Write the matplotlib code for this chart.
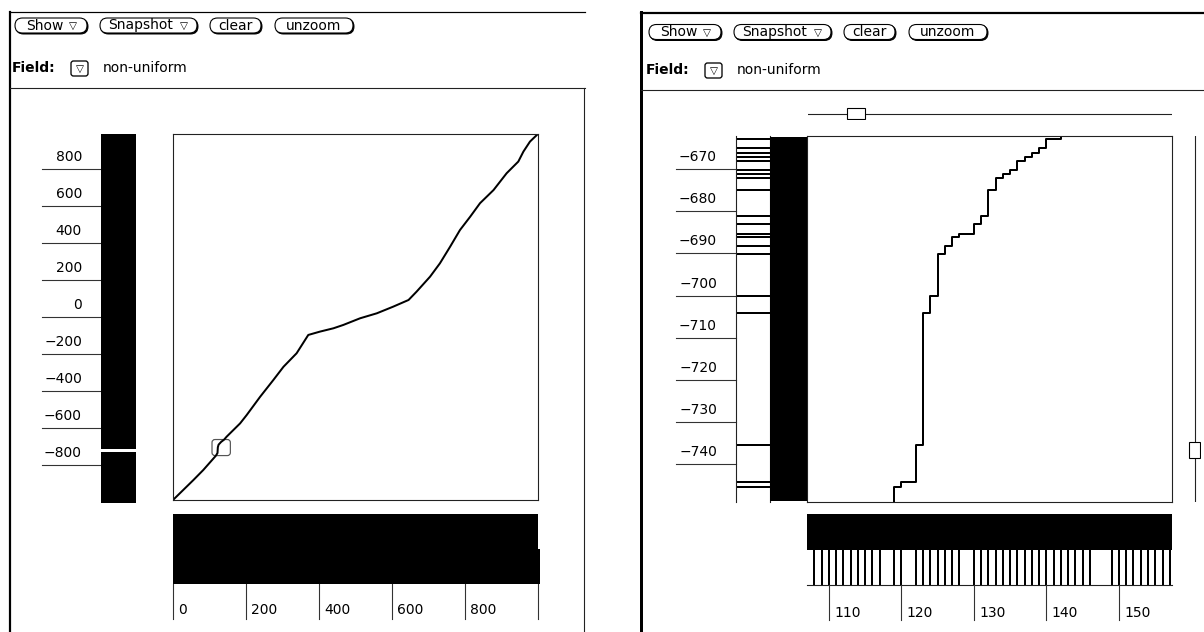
import matplotlib
matplotlib.use("Agg")
import matplotlib.pyplot as plt
import matplotlib.transforms as mtransforms
from matplotlib.patches import FancyBboxPatch, Rectangle

plt.rcParams['font.family'] = ['DejaVu Sans']

# ---------------- data ----------------
# full data set: sorted sample values against position
full_x = [0, 56, 83, 117, 119, 122, 123, 125, 132, 140, 147, 184, 202, 239, 275,
          303, 339, 371, 403, 440, 467, 513, 559, 604, 646, 668, 705, 732, 760,
          787, 815, 842, 879, 915, 947, 961, 979, 998]
full_y = [-989, -881, -827, -751, -745, -735, -704, -690, -675, -663, -647, -575,
          -530, -431, -341, -269, -196, -97, -79, -61, -43, -7, 20, 56, 92, 137,
          218, 290, 380, 470, 542, 615, 686, 777, 840, 894, 948, 984]
full_xlim = (0, 1001)
full_ylim = (-989, 989)
full_y_rug_range = (-1005, 989)
full_y_gaps = [(-729, -712), (220.5, 223.5)]
full_x_rug_end = [1001, 1006.5]
full_xticks = [0, 200, 400, 600, 800]
full_yticks = [800, 600, 400, 200, 0, -200, -400, -600, -800]

# zoomed window
zoom_x = [117, 119, 120, 122, 123, 124, 125, 126, 127, 128, 130, 131, 132, 133,
          134, 135, 136, 137, 138, 139, 140, 142]
zoom_y = [-751.0, -745.4, -744.2, -735.4, -704.2, -700.1, -690.1, -688.2, -686.1,
          -685.3, -683.1, -681.1, -675.0, -672.1, -671.2, -670.2, -668.0, -667.2,
          -666.1, -665.1, -663.0, -661.0]
zoom_rug_x = [108, 109, 110, 111, 112, 113, 114, 115, 116, 117, 119, 120, 122, 123,
              124, 125, 126, 127, 128, 130, 131, 132, 133, 134, 135, 136, 137, 138,
              139, 140, 141, 142, 143, 144, 145, 146, 149, 150, 151, 152, 153, 154,
              155, 156, 157]
zoom_xlim = (106.97, 157.31)
zoom_ylim = (-748.91, -662.18)
zoom_xticks = [110, 120, 130, 140, 150]
zoom_yticks = [-670, -680, -690, -700, -710, -720, -730, -740]

buttons = ["Show", "Snapshot", "clear", "unzoom"]
field_label = "Field:"
field_value = "non-uniform"

# ---------------- figure ----------------
W, H = 1204, 632
fig = plt.figure(figsize=(W / 100, H / 100), dpi=100)
PX = 0.72  # one pixel in points

ui = fig.add_axes([0, 0, 1, 1])
ui.set_xlim(0, W)
ui.set_ylim(H, 0)
ui.axis('off')


def px_axes(x0, y0, x1, y1):
    ax = fig.add_axes([x0 / W, 1 - y1 / H, (x1 - x0) / W, (y1 - y0) / H])
    ax.set_facecolor('none')
    for s in ax.spines.values():
        s.set_visible(False)
    ax.set_xticks([])
    ax.set_yticks([])
    return ax


def num(v):
    return str(v).replace('-', '\u2212')


def pill(x0, x1, yc, h=15):
    r = h / 2
    ui.add_patch(FancyBboxPatch((x0 + 1, yc - h / 2 + 1), x1 - x0, h,
                                boxstyle=f"round,pad=0,rounding_size={r}",
                                fc='black', ec='black', lw=PX))
    ui.add_patch(FancyBboxPatch((x0, yc - h / 2), x1 - x0, h,
                                boxstyle=f"round,pad=0,rounding_size={r}",
                                fc='white', ec='black', lw=1.1 * PX))


def toolbar(dx, dy_buttons, dy_field):
    yc = 25.5 + dy_buttons
    spec = [(15, 87, 44.5, 73), (100, 197, 141, 184), (210, 261, 235.5, None),
            (275, 353, 314, None)]
    for name, (a, b, tc, tri) in zip(buttons, spec):
        pill(a + dx, b + dx, yc)
        ui.text(tc + dx, yc, name, ha='center', va='center', fontsize=10)
        if tri is not None:
            ui.text(tri + dx, yc + 0.5, '\u25bd', ha='center', va='center', fontsize=7.5)
    fy = 68 + dy_field
    ui.text(12 + dx, fy, field_label, ha='left', va='center', fontsize=10,
            fontweight='bold')
    ui.add_patch(FancyBboxPatch((71 + dx, fy - 7), 17, 15,
                                boxstyle="round,pad=0,rounding_size=2.5",
                                fc='white', ec='black', lw=1.3 * PX))
    ui.text(79.5 + dx, fy + 0.5, '\u25bd', ha='center', va='center', fontsize=7.5)
    ui.text(103 + dx, fy, field_value, ha='left', va='center', fontsize=10)


# ---------------- window chrome ----------------
ui.plot([10, 585], [12, 12], color='black', lw=1.2 * PX)
ui.plot([10, 10], [12, H], color='black', lw=2.2 * PX)
ui.plot([10, 585], [88, 88], color='#222222', lw=1.1 * PX)
ui.plot([584, 584], [88, H], color='#222222', lw=1.1 * PX)
toolbar(0, 0, 0)

ui.plot([641, W], [13, 13], color='black', lw=2.2 * PX)
ui.plot([641, 641], [12, H], color='black', lw=3 * PX)
ui.plot([641, W], [90, 90], color='#222222', lw=1.1 * PX)
toolbar(634, 6.5, 2)

# ---------------- full view ----------------
ax_l = px_axes(173, 134, 538, 500)
ax_l.set_xlim(full_xlim)
ax_l.set_ylim(full_ylim)
for s in ax_l.spines.values():
    s.set_visible(True)
    s.set_color('#222222')
    s.set_linewidth(1.1 * PX)
ax_l.plot(full_x, full_y, color='black', lw=2.0 * PX, solid_joinstyle='round')
xpx = (full_xlim[1] - full_xlim[0]) / 365
ypx = (full_ylim[1] - full_ylim[0]) / 366
ax_l.add_patch(FancyBboxPatch((zoom_xlim[0], zoom_ylim[0]),
                              zoom_xlim[1] - zoom_xlim[0], zoom_ylim[1] - zoom_ylim[0],
                              boxstyle=f"round,pad=0,rounding_size={3 * xpx}",
                              mutation_aspect=ypx / xpx,
                              fc='none', ec='#555555', lw=1.2 * PX))

# y ticks
ax_lt = px_axes(42, 134, 101, 500)
ax_lt.set_xlim(42, 101)
ax_lt.set_ylim(full_ylim)
up = mtransforms.offset_copy(ax_lt.transData, fig=fig, x=0, y=12, units='dots')
for v in full_yticks:
    ax_lt.plot([42, 101], [v, v], color='#333333', lw=1.1 * PX, clip_on=False)
    ax_lt.text(82, v, num(v), ha='right', va='center', fontsize=10,
               transform=up, clip_on=False)

# y rug
ax_lr = px_axes(101, 134, 136, 503)
ax_lr.set_ylim(full_y_rug_range)
lo = full_y_rug_range[0]
for g0, g1 in full_y_gaps + [(full_y_rug_range[1], None)]:
    ax_lr.axhspan(lo, g0, color='black', lw=0)
    lo = g1

# x rugs
ax_lb = px_axes(173, 514, 540, 584)
ax_lb.set_xlim(0, full_x_rug_end[1])
ax_lb.axvspan(0, full_x_rug_end[0], ymin=0.5, ymax=1, color='black', lw=0)
ax_lb.axvspan(0, full_x_rug_end[1], ymin=0, ymax=0.5, color='black', lw=0)

# x ticks
ax_lx = px_axes(173, 584, 540, 620)
ax_lx.set_xlim(0, full_x_rug_end[1])
ax_lx.set_ylim(0, 1)
right = mtransforms.offset_copy(ax_lx.transData, fig=fig, x=5, y=0, units='dots')
for v in full_xticks + [full_xlim[1]]:
    ax_lx.plot([v, v], [0.03, 1], color='#333333', lw=1.1 * PX, clip_on=False)
for v in full_xticks:
    ax_lx.text(v, 0.28, num(v), ha='left', va='center', fontsize=10, transform=right)

# ---------------- zoomed view ----------------
ax_r = px_axes(807, 136, 1172, 502)
ax_r.set_xlim(zoom_xlim)
ax_r.set_ylim(zoom_ylim)
for s in ax_r.spines.values():
    s.set_visible(True)
    s.set_color('#222222')
    s.set_linewidth(1.1 * PX)
ax_r.plot(zoom_x, zoom_y, drawstyle='steps-post', color='black', lw=2.0 * PX)

# y ticks
ax_rt = px_axes(676, 136, 736, 502)
ax_rt.set_xlim(676, 736)
ax_rt.set_ylim(zoom_ylim)
up_r = mtransforms.offset_copy(ax_rt.transData, fig=fig, x=0, y=12, units='dots')
for v in zoom_yticks:
    ax_rt.plot([676, 736], [v, v], color='#333333', lw=1.1 * PX, clip_on=False)
    ax_rt.text(717, v, num(v), ha='right', va='center', fontsize=10,
               transform=up_r, clip_on=False)

# y rugs
ax_rr = px_axes(736, 136, 770, 502)
ax_rr.set_ylim(zoom_ylim)
ax_rr.set_xlim(0, 1)
for side in ('left', 'right'):
    ax_rr.spines[side].set_visible(True)
    ax_rr.spines[side].set_linewidth(1.1 * PX)
    ax_rr.spines[side].set_color('#222222')
for v in zoom_y:
    if zoom_ylim[0] <= v <= zoom_ylim[1]:
        ax_rr.axhline(v, color='black', lw=2.0 * PX)

ax_ri = px_axes(770, 137, 807, 501)
ax_ri.set_ylim(zoom_ylim)
ax_ri.axhspan(*zoom_ylim, color='black', lw=0)

# x rugs
ax_rbi = px_axes(807, 514, 1172, 550)
ax_rbi.set_xlim(zoom_xlim)
ax_rbi.axvspan(*zoom_xlim, color='black', lw=0)

ax_rbo = px_axes(807, 550, 1172, 585)
ax_rbo.set_xlim(zoom_xlim)
ax_rbo.set_ylim(0, 1)
ax_rbo.spines['bottom'].set_visible(True)
ax_rbo.spines['bottom'].set_linewidth(1.1 * PX)
ax_rbo.spines['bottom'].set_color('#222222')
for v in zoom_rug_x:
    ax_rbo.axvline(v, color='black', lw=2.0 * PX)

# x ticks
ax_rx = px_axes(807, 585, 1172, 620)
ax_rx.set_xlim(zoom_xlim)
ax_rx.set_ylim(0, 1)
right_r = mtransforms.offset_copy(ax_rx.transData, fig=fig, x=5, y=0, units='dots')
for v in zoom_xticks:
    ax_rx.plot([v, v], [0, 1], color='#333333', lw=1.1 * PX, clip_on=False)
    ax_rx.text(v, 0.21, num(v), ha='left', va='center', fontsize=10, transform=right_r)

# sliders showing where the zoom window sits in the full range
ax_hs = px_axes(808, 107, 1172, 120)
ax_hs.set_xlim(full_xlim)
ax_hs.set_ylim(0, 1)
ax_hs.axhline(0.5, color='#222222', lw=1.1 * PX)
ax_hs.add_patch(Rectangle((zoom_xlim[0], 0.08), zoom_xlim[1] - zoom_xlim[0], 0.84,
                          fc='white', ec='black', lw=1.1 * PX, zorder=3))

ax_vs = px_axes(1188, 136, 1201, 502)
ax_vs.set_ylim(full_ylim)
ax_vs.set_xlim(0, 1)
ax_vs.axvline(0.5, color='#222222', lw=1.1 * PX)
ax_vs.add_patch(Rectangle((0.04, zoom_ylim[0]), 0.92, zoom_ylim[1] - zoom_ylim[0],
                          fc='white', ec='black', lw=1.1 * PX, zorder=3))

fig.savefig('out.png', dpi=100)
